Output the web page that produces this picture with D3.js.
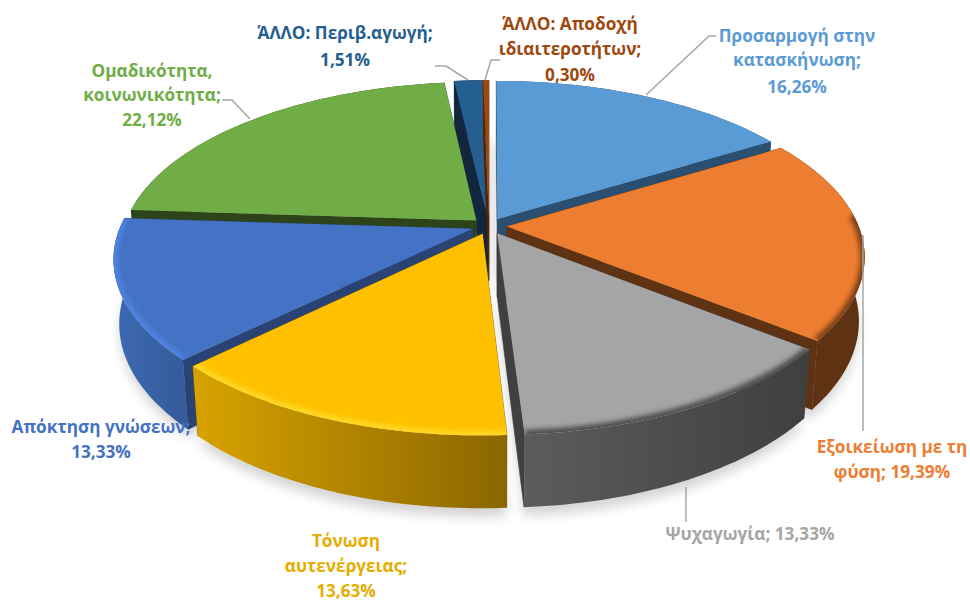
<!DOCTYPE html>
<html><head><meta charset="utf-8">
<script src="https://cdn.jsdelivr.net/npm/d3@7/dist/d3.min.js"></script>
<style>html,body{margin:0;padding:0;background:#fff}svg{display:block}text{font-family:"Open Sans",sans-serif;font-weight:700;font-size:17.2px;text-anchor:middle}</style>
</head><body><svg id="c" width="970" height="601"></svg>
<script>
// data
const categories = ["Προσαρμογή στην κατασκήνωση","Εξοικείωση με τη φύση","Ψυχαγωγία","Τόνωση αυτενέργειας","Απόκτηση γνώσεων","Ομαδικότητα, κοινωνικότητα","ΆΛΛΟ: Περιβ.αγωγή","ΆΛΛΟ: Αποδοχή ιδιαιτεροτήτων"];
const values = [16.26,19.39,13.33,13.63,13.33,22.12,1.51,0.30];
const valueLabels = ["16,26%","19,39%","13,33%","13,63%","13,33%","22,12%","1,51%","0,30%"];
const labelLines = [
 ["Προσαρμογή στην","κατασκήνωση;","16,26%"],
 ["Εξοικείωση με τη","φύση; 19,39%"],
 ["Ψυχαγωγία; 13,33%"],
 ["Τόνωση","αυτενέργειας;","13,63%"],
 ["Απόκτηση γνώσεων;","13,33%"],
 ["Ομαδικότητα,","κοινωνικότητα;","22,12%"],
 ["ΆΛΛΟ: Περιβ.αγωγή;","1,51%"],
 ["ΆΛΛΟ: Αποδοχή","ιδιαιτεροτήτων;","0,30%"]];
// styles and layout
const topColors = ["#5b9bd5","#ed7d31","#a5a5a5","#ffc000","#4472c4","#70ad47","#255e91","#9e480e"];
const textColors = ["#5b9bd5","#ed7d31","#a5a5a5","#e5ad00","#4472c4","#70ad47","#255e91","#9e480e"];
const innerColors = ["#2b4f70","#5f3213","#404040","#6b5000","#2a4374","#2d441a","#12263f","#4f2507"];
const wallStops = [["#2b4f70","#2b4f70"],["#5f3213","#5f3213"],["#5c5c5c","#3f3f3f"],["#d8a300","#8a6600"],["#3d6ab2","#345c9c"],["#2d441a","#2d441a"],["#12263f","#12263f"],["#4f2507","#4f2507"]];
const rims = [null,{c:"#5a2f10",a:1.5,o:.8},{c:"#3c3c3c",a:0,o:.85},{c:"#ffdb2a",a:0,o:.9},{c:"#4f86e6",a:0,o:.85},null,null,null];
const order = [6,7,0,5,1,4,2,3];
const labelCx = [797,892,750,346,101,152,345,570];
const labelCy = [[36,60,87],[447,472],[534],[541,566,591],[427,452],[71,95,120],[33,60],[24,49,75]];
const leaders = [
 [[646,95],[709,36],[716,36]],
 [[863,235],[863,431]],
 [[686,487],[686,522]],
 [],[],
 [[250,119],[232,100],[222,100]],
 [[468,80],[446,66],[435,66]],
 [[485,80],[491,60],[500,60]]];

const cx=489, cy=226, kx=352, ky=164, persp=.172, drop=64, shrink=.015, explode=.05;
const sx=d3.scaleLinear().domain([-1,1]).range([cx-kx,cx+kx]);
const sy=d3.scaleLinear().domain([-1,1]).range([cy+ky,cy-ky]);
function proj(X,Y,z){
  const s=1/(1+persp*Y+shrink*z);
  return [sx(X*s), sy(Y*s)+drop*z*s];
}
const pie=d3.pie().sort(null).value(d=>d)(values);
const line=d3.line();
const svg=d3.select("#c"), defs=svg.append("defs");
const f1=defs.append("filter").attr("id","shadow").attr("x","-20%").attr("y","-20%").attr("width","140%").attr("height","140%");
f1.append("feGaussianBlur").attr("stdDeviation",6);
const f2=defs.append("filter").attr("id","rim").attr("x","-20%").attr("y","-20%").attr("width","140%").attr("height","140%");
f2.append("feGaussianBlur").attr("stdDeviation",2.6);

function arcPts(d,z,a0,a1){
  const mid=(d.startAngle+d.endAngle)/2, ox=explode*Math.sin(mid), oy=explode*Math.cos(mid);
  const s=a0===undefined?d.startAngle:a0, e=a1===undefined?d.endAngle:a1;
  const n=Math.max(2,Math.ceil((e-s)/.02));
  return d3.range(n+1).map(i=>{const t=s+(e-s)*i/n;return proj(ox+Math.sin(t),oy+Math.cos(t),z);});
}
function apex(d,z){
  const mid=(d.startAngle+d.endAngle)/2;
  return proj(explode*Math.sin(mid),explode*Math.cos(mid),z);
}
// soft shadow below the pie
const sh=svg.append("g").attr("filter","url(#shadow)").attr("opacity",.17);
pie.forEach(d=>{
  sh.append("path").attr("d",line([apex(d,1.12),...arcPts(d,1.12)])+"Z").attr("fill","#000");
});
order.forEach(i=>{
  const d=pie[i], g=svg.append("g");
  const top=arcPts(d,0), bot=arcPts(d,1), A0=apex(d,0), A1=apex(d,1);
  // radial walls
  [[top[0],bot[0]],[top[top.length-1],bot[bot.length-1]]].forEach(([t,b])=>{
    g.append("path").attr("d",line([A0,t,b,A1])+"Z").attr("fill",innerColors[i]).attr("stroke",innerColors[i]).attr("stroke-width",.5);
  });
  // outer wall
  const ext=d3.extent(top,p=>p[0]);
  const gr=defs.append("linearGradient").attr("id","w"+i).attr("gradientUnits","userSpaceOnUse")
    .attr("x1",ext[0]).attr("x2",ext[1]).attr("y1",0).attr("y2",0);
  gr.append("stop").attr("offset",0).attr("stop-color",wallStops[i][0]);
  gr.append("stop").attr("offset",1).attr("stop-color",wallStops[i][1]);
  g.append("path").attr("d",line([...top,...bot.slice().reverse()])+"Z").attr("fill",`url(#w${i})`);
  // top face
  const face=line([A0,...top])+"Z";
  g.append("path").attr("d",face).attr("fill",topColors[i]);
  if(rims[i]){
    defs.append("clipPath").attr("id","cp"+i).append("path").attr("d",face);
    const a0=Math.max(d.startAngle,rims[i].a);
    g.append("g").attr("clip-path",`url(#cp${i})`).append("path")
      .attr("d",line(arcPts(d,0,a0,d.endAngle))).attr("fill","none")
      .attr("stroke",rims[i].c).attr("stroke-opacity",rims[i].o).attr("stroke-width",9).attr("filter","url(#rim)");
  }
});
// leaders
leaders.forEach(l=>{ if(l.length) svg.append("path").attr("d",line(l)).attr("fill","none").attr("stroke","#a6a6a6").attr("stroke-width",1.5); });
// labels
labelLines.forEach((ls,i)=>{
  ls.forEach((t,j)=>{
    svg.append("text").attr("x",labelCx[i]).attr("y",labelCy[i][j]).attr("dy","0.36em").attr("fill",textColors[i]).text(t);
  });
});
</script></body></html>
